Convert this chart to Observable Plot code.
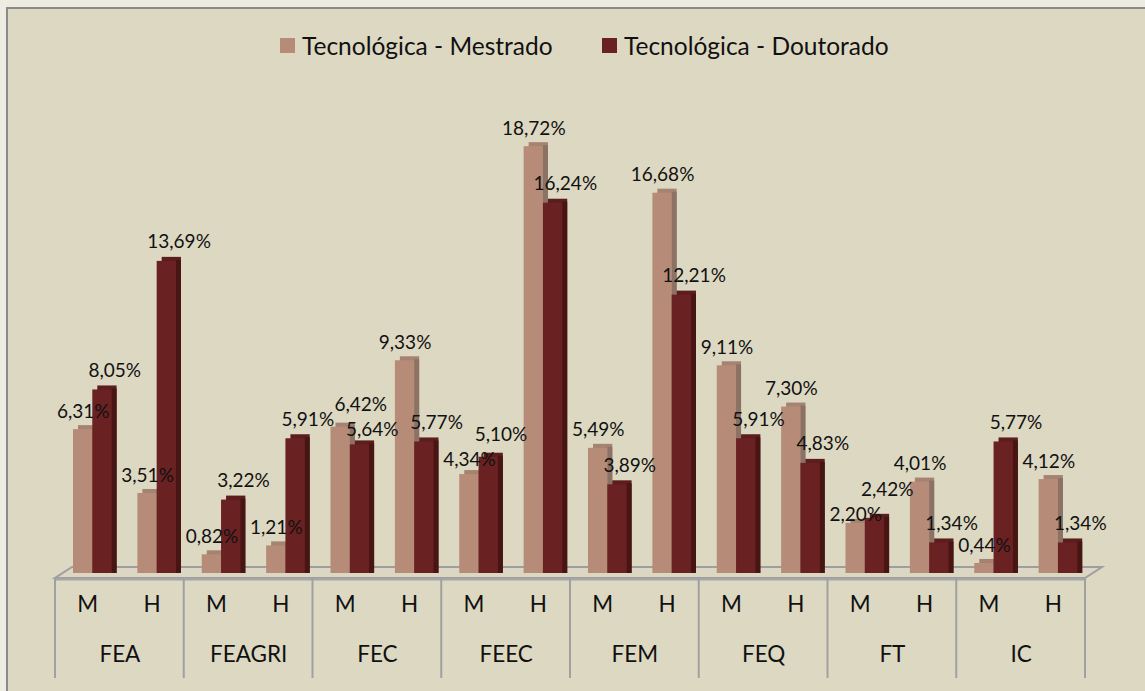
<!DOCTYPE html>
<html>
<head>
<meta charset="utf-8">
<script src="https://cdn.jsdelivr.net/npm/d3@7"></script>
<script src="https://cdn.jsdelivr.net/npm/@observablehq/plot@0.6"></script>
<style>
  html, body { margin: 0; padding: 0; background: #eeebe0; overflow: hidden; }
  #page { position: relative; width: 1145px; height: 691px; }
  #box { position: absolute; left: 6px; top: 7px; width: 1200px; height: 800px;
         border-left: 2px solid #8a8a8a; border-top: 2px solid #8a8a8a; background: #ddd8c2; }
  #legend { position: relative; height: 80px; font-family: Lato, sans-serif; font-size: 24.5px; color: #111; }
  .item { position: absolute; top: 31px; display: flex; align-items: center; white-space: nowrap; }
  .sw { width: 15px; height: 15px; margin-right: 7px; }
  #chart { position: relative; }
</style>
</head>
<body>
<div id="page">
  <div id="box"></div>
  <div id="legend"></div>
  <div id="chart"></div>
</div>
<script>
// ---- data ----
const groups = ["FEA", "FEAGRI", "FEC", "FEEC", "FEM", "FEQ", "FT", "IC"];
const subcats = ["M", "H"];
const seriesNames = ["Tecnológica - Mestrado", "Tecnológica - Doutorado"];
const mestrado  = [6.31, 3.51, 0.82, 1.21, 6.42, 9.33, 4.34, 18.72, 5.49, 16.68, 9.11, 7.30, 2.20, 4.01, 0.44, 4.12];
const doutorado = [8.05, 13.69, 3.22, 5.91, 5.64, 5.77, 5.10, 16.24, 3.89, 12.21, 5.91, 4.83, 2.42, 1.34, 5.77, 1.34];

// ---- styles ----
const light = {front: "#b68c78", cap: "#a48372", side: "#8b7264"};
const dark  = {front: "#6a2121", cap: "#5c1d1d", side: "#481515"};

const W = 1145, H = 611, mT = 37, mB = 118, mL = 55, mR = 60;
const yMax = 20;
const pxPerUnit = (H - mT - mB) / yMax;

const slots = groups.flatMap(g => subcats.map(s => g + "|" + s));
const rows = slots.map((k, i) => ({slot: k, group: k.split("|")[0], sub: k.split("|")[1], m: mestrado[i], d: doutorado[i]}));
const fmt = v => d3.format(".2f")(v).replace(".", ",") + "%";

// label placement rules
const dyL = -18, dyD = -19, minSep = 25, dxL = -4.5, dxD = 27, shiftL = 20;
rows.forEach(r => {
  const pl = r.m * pxPerUnit - dyL, pd = r.d * pxPerUnit - dyD; // label heights above baseline (px)
  let sl = 0, sd = 0;
  const gap = Math.abs(pl - pd);
  if (gap < minSep) {
    const push = (minSep - gap) / 2;
    if (pd >= pl) { sd = push; sl = -push; } else { sl = push; sd = -push; }
  }
  r.ml = r.m + sl / pxPerUnit;
  r.dl = r.d + sd / pxPerUnit;
});
// a Mestrado label that would collide with the previous slot's Doutorado label moves right
rows.forEach((r, i) => {
  r.shift = i > 0 && Math.abs((r.ml - rows[i - 1].dl) * pxPerUnit) < 20;
});

// legend
const legend = document.getElementById("legend");
[[seriesNames[0], light.front, 280], [seriesNames[1], dark.front, 602]].forEach(([name, color, left]) => {
  const it = document.createElement("div");
  it.className = "item";
  it.style.left = left + "px";
  it.innerHTML = `<span class="sw" style="background:${color}"></span><span>${name}</span>`;
  legend.appendChild(it);
});

const bw = (W - mL - mR) / slots.length; // band width in px
const L = {l: 18, r: bw - 37.3};   // insets for Mestrado bar
const D = {l: 37.3, r: bw - 56.6}; // insets for Doutorado bar
const ox = 5, oy = -4;             // 3D offset

function faces(key, ins, col) {
  return [
    Plot.barY(rows, {x: "slot", y: key, fill: col.cap, insetLeft: ins.l, insetRight: ins.r, insetBottom: -4, dx: ox, dy: oy}),
    Plot.barY(rows, {x: "slot", y: key, fill: col.side, insetLeft: bw - ins.r - 5, insetRight: ins.r, insetTop: 3, insetBottom: -4, dx: ox, dy: oy})
  ];
}

const plot = Plot.plot({
  width: W,
  height: H,
  marginLeft: mL,
  marginRight: mR,
  marginTop: mT,
  marginBottom: mB,
  style: {fontFamily: "Lato, sans-serif", background: "transparent", overflow: "visible", color: "#111"},
  x: {axis: null, domain: slots, padding: 0, round: false},
  y: {axis: null, domain: [0, yMax]},
  marks: [
    ...faces("m", L, light),
    ...faces("d", D, dark),
    Plot.barY(rows, {x: "slot", y: "m", fill: light.front, insetLeft: L.l, insetRight: L.r}),
    Plot.barY(rows, {x: "slot", y: "d", fill: dark.front, insetLeft: D.l, insetRight: D.r}),
    Plot.text(rows.filter(r => !r.shift), {x: "slot", y: "ml", text: d => fmt(d.m), dx: dxL, dy: dyL, fontSize: 19, fill: "#111"}),
    Plot.text(rows.filter(r => r.shift), {x: "slot", y: "ml", text: d => fmt(d.m), dx: dxL + shiftL, dy: dyL, fontSize: 19, fill: "#111"}),
    Plot.text(rows, {x: "slot", y: "dl", text: d => fmt(d.d), dx: dxD, dy: dyD, fontSize: 19, fill: "#111"}),
    Plot.text(rows, {x: "slot", text: "sub", frameAnchor: "bottom", dy: 38, fontSize: 22.5, fill: "#111"}),
    Plot.text(rows.filter(d => d.sub === "M"), {x: "slot", text: "group", frameAnchor: "bottom", dy: 88, dx: bw / 2, fontSize: 22.5, fill: "#111"})
  ]
});

// floor and category separators, positioned with the plot's scales
const X = plot.scale("x"), Y = plot.scale("y");
const x0 = X.apply(slots[0]);
const x1 = X.apply(slots[slots.length - 1]) + X.bandwidth;
const y0 = Y.apply(0);
const svg = d3.select(plot);
const g = svg.insert("g", "g");
const front = y0 + 5, back = y0 - 6, depth = 17;
g.append("polygon")
  .attr("points", [[x0, front], [x1, front], [x1 + depth, back], [x0 + depth, back]].map(p => p.join(",")).join(" "))
  .attr("fill", "#dcd7c3").attr("stroke", "#9e9e9e").attr("stroke-width", 2);
g.append("rect").attr("x", x0).attr("y", front).attr("width", x1 - x0).attr("height", 2.5).attr("fill", "#a6a6a6");
const bounds = groups.map(gname => X.apply(gname + "|M")).concat([x1]);
bounds.forEach(bx => {
  g.append("line").attr("x1", bx).attr("x2", bx).attr("y1", front).attr("y2", y0 + 105)
    .attr("stroke", "#a0a0a0").attr("stroke-width", 2);
});

document.getElementById("chart").appendChild(plot);
</script>
</body>
</html>
